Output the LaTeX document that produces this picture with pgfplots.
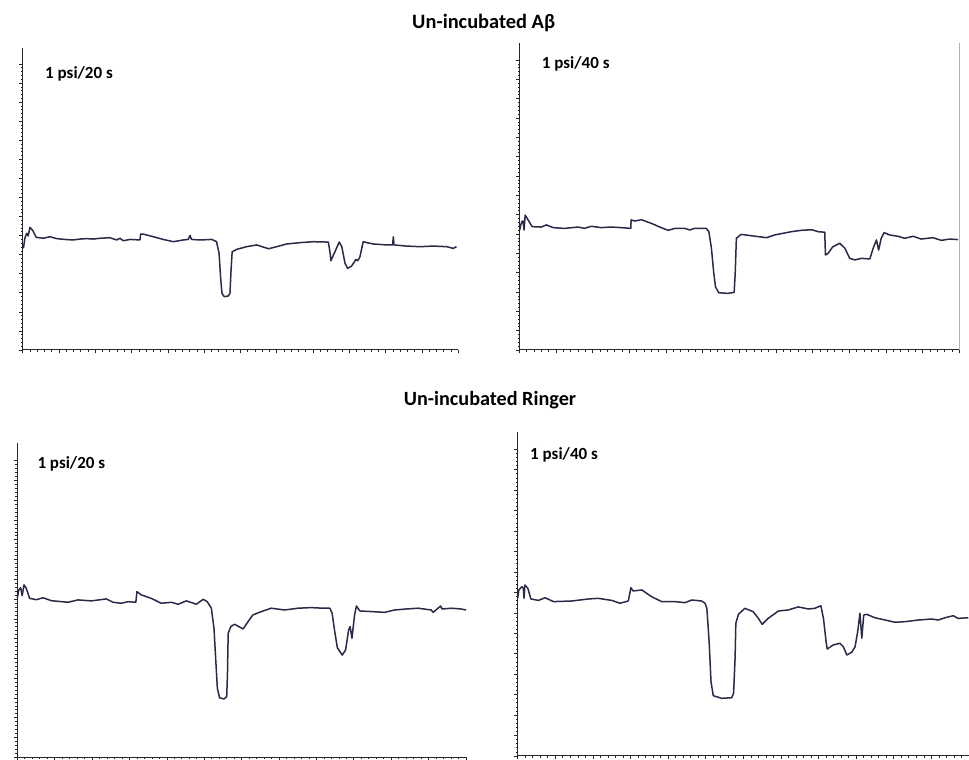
\documentclass[border=0pt]{standalone}
\usepackage{pgfplots}
\pgfplotsset{compat=1.18}
\usepackage{fontspec}
\setmainfont{Carlito}
\definecolor{trace}{RGB}{40,42,72}
\pgfplotsset{panel/.style={
  scale only axis, xmin=0, xmax=12, ymin=0,
  axis x line*=bottom, axis y line*=left,
  axis line style={-, line width=1pt, black!85},
  xtick={0,...,12}, ytick={0,...,15},
  minor x tick num=4, minor y tick num=4,
  tick align=outside, major tick length=3.5pt, minor tick length=1.8pt,
  xticklabels={}, yticklabels={},
  every tick/.style={black!85, line width=0.7pt},
  clip=false, anchor=south west},
  trc/.style={color=trace, line width=1.5pt, mark=none, line join=round}}
\begin{document}
\begin{tikzpicture}
\useasboundingbox (0,0) rectangle (969pt,760pt);
% ---------- top left ----------
\begin{axis}[panel, at={(22.7pt,410pt)}, width=435.6pt, height=302pt, ymax=15.84]
\addplot[trc] coordinates {
(0.02,5.33)(0.06,5.86)(0.11,6.12)(0.15,5.98)(0.20,6.43)(0.28,6.26)(0.37,5.91)
(0.57,5.86)(0.75,5.94)(0.94,5.84)(1.15,5.80)(1.39,5.77)(1.58,5.82)(1.76,5.84)(1.95,5.82)(2.13,5.86)
(2.40,5.89)(2.59,5.77)(2.68,5.86)(2.77,5.73)(2.96,5.80)(3.23,5.77)(3.25,6.08)
(3.32,6.08)(3.60,5.94)(3.87,5.80)(4.15,5.68)(4.42,5.77)(4.56,5.80)(4.61,6.01)
(4.65,5.80)(4.88,5.77)(5.21,5.80)(5.34,5.68)(5.41,5.07)(5.45,3.84)(5.49,2.97)
(5.55,2.80)(5.66,2.83)(5.71,2.97)(5.74,4.20)(5.77,5.15)(5.90,5.28)(6.17,5.42)
(6.45,5.51)(6.77,5.31)(7.00,5.42)(7.27,5.56)(7.64,5.63)(8.01,5.68)(8.42,5.66)
(8.47,5.07)(8.49,4.68)(8.60,5.15)(8.72,5.66)(8.79,5.42)(8.88,4.55)(8.95,4.28)
(9.06,4.40)(9.18,4.75)(9.23,4.68)(9.29,4.89)(9.38,5.68)(9.48,5.63)(9.66,5.56)
(10.03,5.51)(10.19,5.51)(10.21,5.94)(10.23,5.51)(10.58,5.45)(10.94,5.42)
(11.31,5.45)(11.68,5.42)(11.86,5.33)(11.95,5.42)};
\end{axis}
% ---------- top right ----------
\begin{axis}[panel, at={(519.3pt,410pt)}, width=440pt, height=307pt, ymax=15.88]
\addplot[trc] coordinates {
(0.01,6.21)(0.04,6.47)(0.07,6.64)(0.10,6.67)(0.13,6.21)(0.16,6.98)(0.24,6.73)
(0.35,6.38)(0.60,6.36)(0.74,6.47)(0.92,6.33)(1.24,6.29)(1.60,6.36)(1.78,6.29)
(1.96,6.40)(2.24,6.33)(2.51,6.36)(2.78,6.33)(3.04,6.29)(3.05,6.73)(3.15,6.67)
(3.33,6.74)(3.60,6.55)(3.87,6.33)(4.06,6.19)(4.24,6.29)(4.51,6.29)(4.65,6.21)
(4.78,6.29)(5.10,6.29)(5.17,6.12)(5.24,5.26)(5.30,4.05)(5.35,3.27)(5.44,2.96)
(5.69,2.93)(5.86,2.98)(5.89,4.05)(5.92,5.78)(6.05,5.98)(6.33,5.91)(6.74,5.81)
(6.96,5.95)(7.42,6.12)(7.69,6.19)(7.98,6.22)(8.15,6.12)(8.33,6.09)(8.35,4.91)
(8.42,5.00)(8.55,5.34)(8.74,5.52)(8.88,5.26)(9.01,4.74)(9.15,4.66)(9.33,4.74)
(9.56,4.71)(9.65,5.26)(9.74,5.69)(9.80,5.17)(9.87,5.78)(9.95,6.07)(10.10,5.95)
(10.33,5.88)(10.51,5.78)(10.74,5.88)(10.96,5.74)(11.28,5.81)(11.51,5.67)
(11.74,5.74)(11.97,5.71)};
\draw[black!30, line width=1pt] (rel axis cs:1,0) -- (rel axis cs:1,1);
\end{axis}
% ---------- bottom left ----------
\begin{axis}[panel, at={(17.3pt,2.7pt)}, width=448.7pt, height=314pt, ymax=15.88]
\addplot[trc] coordinates {
(0,8.04)(0.04,8.46)(0.09,8.58)(0.13,8.17)(0.18,8.72)(0.24,8.55)(0.33,8.04)
(0.51,7.97)(0.69,8.07)(0.91,7.92)(1.36,7.84)(1.62,7.96)(1.98,7.91)(2.38,8.01)
(2.56,7.84)(2.78,7.79)(2.96,7.87)(3.17,7.84)(3.20,8.38)(3.32,8.21)(3.58,8.04)
(3.85,7.79)(4.12,7.84)(4.30,7.74)(4.52,7.91)(4.79,7.74)(4.97,7.99)(5.08,7.87)
(5.19,7.54)(5.26,6.53)(5.31,4.84)(5.35,3.49)(5.41,3.01)(5.53,2.95)(5.60,3.07)
(5.62,4.16)(5.64,6.27)(5.71,6.61)(5.81,6.73)(6.04,6.49)(6.17,6.86)(6.30,7.20)
(6.53,7.37)(6.79,7.54)(7.15,7.45)(7.51,7.54)(7.86,7.57)(8.18,7.54)(8.36,7.54)
(8.42,7.28)(8.49,6.35)(8.56,5.54)(8.69,5.17)(8.78,5.43)(8.86,6.44)(8.90,6.61)
(8.95,6.02)(9.02,7.20)(9.07,7.65)(9.16,7.40)(9.47,7.37)(9.82,7.33)(10.09,7.45)
(10.40,7.50)(10.72,7.54)(11.07,7.45)(11.12,7.33)(11.32,7.65)(11.36,7.50)
(11.61,7.54)(11.87,7.50)(12.0,7.45)};
\end{axis}
% ---------- bottom right ----------
\begin{axis}[panel, at={(517.7pt,4pt)}, width=451.3pt, height=324.3pt, ymax=15.86]
\addplot[trc] coordinates {
(0,7.71)(0.03,8.12)(0.11,8.28)(0.15,8.20)(0.17,7.71)(0.19,8.36)(0.27,8.20)
(0.35,7.68)(0.55,7.61)(0.73,7.74)(0.95,7.55)(1.44,7.58)(1.88,7.68)(2.14,7.71)
(2.50,7.61)(2.72,7.47)(2.94,7.58)(3.01,8.23)(3.07,8.07)(3.30,8.12)(3.56,7.79)
(3.83,7.55)(4.18,7.55)(4.45,7.50)(4.63,7.63)(4.89,7.58)(4.98,7.47)(5.03,7.22)
(5.09,5.59)(5.14,3.63)(5.20,2.95)(5.42,2.82)(5.69,2.85)(5.74,3.07)(5.78,4.78)
(5.80,6.49)(5.87,6.93)(6.04,7.22)(6.26,7.06)(6.40,6.73)(6.50,6.44)(6.66,6.73)
(6.93,7.09)(7.19,7.14)(7.46,7.29)(7.73,7.19)(7.90,7.22)(8.06,7.35)(8.13,6.73)
(8.20,5.59)(8.23,5.23)(8.39,5.43)(8.57,5.51)(8.66,5.34)(8.75,4.94)(8.88,5.07)
(8.97,5.34)(9.04,6.08)(9.10,6.98)(9.15,5.76)(9.20,6.89)(9.28,6.93)(9.50,6.76)
(9.77,6.65)(10.03,6.54)(10.30,6.57)(10.65,6.65)(11.01,6.70)(11.18,6.65)
(11.36,6.76)(11.58,6.86)(11.71,6.73)(11.98,6.76)};
\end{axis}
% ---------- titles and labels ----------
\node[anchor=base, font=\fontsize{20.4}{23}\selectfont\bfseries] at (483.7pt,731pt) {Un-incubated Aβ};
\node[anchor=base, font=\fontsize{20.2}{23}\selectfont\bfseries] at (490pt,354pt) {Un-incubated Ringer};
\node[anchor=base west, inner sep=0pt, font=\fontsize{17}{19}\selectfont\bfseries] at (45pt,681.7pt) {1 psi/20 s};
\node[anchor=base west, inner sep=0pt, font=\fontsize{17}{19}\selectfont\bfseries] at (541.7pt,691.7pt) {1 psi/40 s};
\node[anchor=base west, inner sep=0pt, font=\fontsize{17}{19}\selectfont\bfseries] at (37.3pt,291.7pt) {1 psi/20 s};
\node[anchor=base west, inner sep=0pt, font=\fontsize{17}{19}\selectfont\bfseries] at (530pt,300.7pt) {1 psi/40 s};
\end{tikzpicture}
\end{document}
